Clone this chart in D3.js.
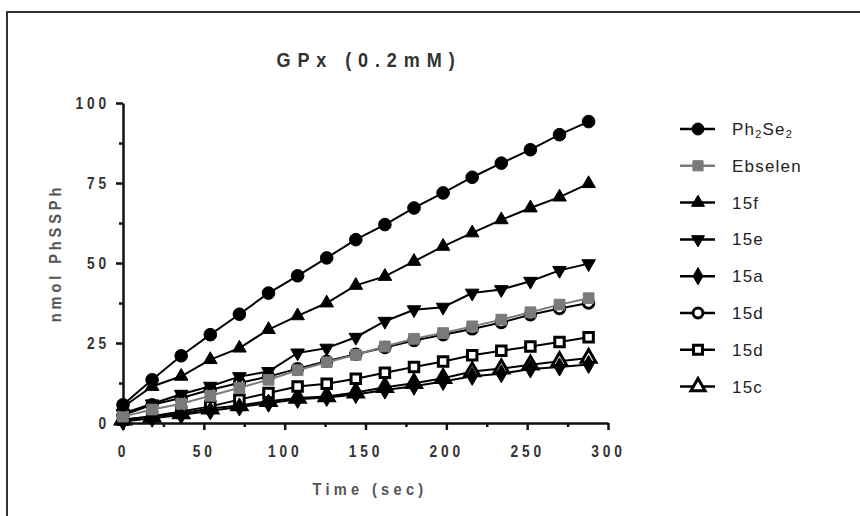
<!DOCTYPE html>
<html>
<head>
<meta charset="utf-8">
<script src="https://cdn.jsdelivr.net/npm/d3@7"></script>
<style>
  body { margin: 0; background: #fff; }
  text { font-family: "Liberation Sans", Arial, sans-serif; }
  .bold { font-weight: bold; }
</style>
</head>
<body>
<div id="chart"></div>
<script>
// time points (sec)
var times = [0, 18, 36, 54, 72, 90, 108, 126, 144, 162, 180, 198, 216, 234, 252, 270, 288];

// nmol PhSSPh for each compound
var ph2se2 = [5.7, 13.5, 21, 27.6, 34, 40.6, 46, 51.6, 57.3, 62, 67.2, 71.9, 76.8, 81.2, 85.4, 90.1, 94.2];
var ebselen = [2, 4.2, 6, 8.5, 11, 13.5, 16.5, 19, 21.3, 23.9, 26.3, 28.1, 30.2, 32.3, 34.6, 37, 39];
var c15f = [5, 11.4, 14.6, 19.8, 23.4, 29.2, 33.5, 37.5, 43, 45.8, 50.5, 55.2, 59.4, 63.5, 67.2, 70.6, 74.8];
var c15e = [3, 6, 9, 11.5, 14.5, 16.1, 21.9, 23.4, 26.8, 31.8, 35.4, 36.2, 40.6, 41.7, 44.3, 47.7, 49.8];
var c15a = [0.5, 1.5, 2.5, 3.8, 5, 6.2, 7.4, 8, 8.9, 10.3, 11.5, 13, 14.6, 15.4, 16.9, 17.5, 18.3];
var c15dCircle = [2.5, 5.7, 7.8, 10.4, 12.5, 14.5, 17, 19.3, 21.5, 23.6, 25.8, 27.6, 29.4, 31.4, 33.8, 35.8, 37.5];
var c15dSquare = [1, 2.1, 3.6, 5.2, 7.3, 9.4, 11.4, 12.3, 13.8, 15.7, 17.5, 19.2, 21.2, 22.6, 23.9, 25.3, 26.8];
var c15c = [1, 2, 3, 4.5, 5.5, 6.8, 7.8, 8.3, 9.5, 11.2, 12.4, 14, 16.1, 17, 18.2, 19.3, 20.3];

var seriesNames = ['Ph2Se2', 'Ebselen', '15f', '15e', '15a', '15d', '15d', '15c'];
var seriesValues = [ph2se2, ebselen, c15f, c15e, c15a, c15dCircle, c15dSquare, c15c];

var yTicks = [0, 25, 50, 75, 100];
var yMinor = [12.5, 37.5, 62.5, 87.5];
var xTicks = [0, 50, 100, 150, 200, 250, 300];
var xMinor = [25, 75, 125, 175, 225, 275];

// marker look per series
var markers = [
  {shape: d3.symbolCircle, size: 125, fill: '#000', stroke: '#000', line: '#000', rot: 0},
  {shape: d3.symbolSquare, size: 115, fill: '#7a7a7a', stroke: '#7a7a7a', line: '#7a7a7a', rot: 0},
  {shape: d3.symbolTriangle, size: 80, fill: '#000', stroke: '#000', line: '#000', rot: 0},
  {shape: d3.symbolTriangle, size: 80, fill: '#000', stroke: '#000', line: '#000', rot: 180},
  {shape: d3.symbolDiamond, size: 95, fill: '#000', stroke: '#000', line: '#000', rot: 0},
  {shape: d3.symbolCircle, size: 85, fill: '#fff', stroke: '#000', line: '#000', rot: 0, open: true},
  {shape: d3.symbolSquare, size: 90, fill: '#fff', stroke: '#000', line: '#000', rot: 0, open: true},
  {shape: d3.symbolTriangle, size: 95, fill: '#fff', stroke: '#000', line: '#000', rot: 0, open: true}
];

var W = 860, H = 516;
var squeeze = 0.86; // the original lettering is condensed

var svg = d3.select('#chart').append('svg')
  .attr('width', W)
  .attr('height', H);

// outer frame (runs off the right and bottom edges)
svg.append('rect')
  .attr('x', 7).attr('y', 12)
  .attr('width', 900).attr('height', 600)
  .attr('fill', 'none')
  .attr('stroke', '#333')
  .attr('stroke-width', 2);

var x = d3.scaleLinear().domain([0, 300]).range([123, 608]);
var y = d3.scaleLinear().domain([0, 100]).range([423, 103]);

// title
svg.append('text')
  .attr('class', 'bold')
  .attr('transform', 'translate(369,67) scale(' + squeeze + ',1)')
  .attr('text-anchor', 'middle')
  .style('font-size', '21px')
  .style('letter-spacing', '8px')
  .style('fill', '#333')
  .text('GPx (0.2mM)');

// y axis
var yAx = svg.append('g')
  .attr('transform', 'translate(' + x(0) + ',0)')
  .call(d3.axisLeft(y).tickValues(yTicks).tickSize(7).tickSizeOuter(0).tickPadding(6));
svg.append('g')
  .attr('transform', 'translate(' + x(0) + ',0)')
  .call(d3.axisLeft(y).tickValues(yMinor).tickSize(4).tickSizeOuter(0).tickFormat(''))
  .select('.domain').remove();

// x axis
var xAx = svg.append('g')
  .attr('transform', 'translate(0,' + y(0) + ')')
  .call(d3.axisBottom(x).tickValues(xTicks).tickSize(7).tickSizeOuter(0).tickPadding(16));
svg.append('g')
  .attr('transform', 'translate(0,' + y(0) + ')')
  .call(d3.axisBottom(x).tickValues(xMinor).tickSize(4).tickSizeOuter(0).tickFormat(''))
  .select('.domain').remove();

svg.selectAll('.domain, .tick line')
  .attr('stroke', '#111')
  .attr('stroke-width', 2.5);

svg.selectAll('.tick text')
  .attr('class', 'bold')
  .style('font-size', '16px')
  .style('letter-spacing', '4.5px')
  .style('fill', '#333')
  .attr('transform', 'scale(' + squeeze + ',1)');
yAx.selectAll('.tick text').attr('x', -13 / squeeze);

// axis labels
svg.append('text')
  .attr('class', 'bold')
  .attr('transform', 'translate(370,495) scale(' + squeeze + ',1)')
  .attr('text-anchor', 'middle')
  .style('font-size', '17px')
  .style('letter-spacing', '5px')
  .style('fill', '#555')
  .text('Time (sec)');

svg.append('text')
  .attr('class', 'bold')
  .attr('transform', 'translate(61,253) rotate(-90) scale(' + squeeze + ',1)')
  .attr('text-anchor', 'middle')
  .style('font-size', '17px')
  .style('letter-spacing', '4.5px')
  .style('fill', '#555')
  .text('nmol PhSSPh');

var line = d3.line()
  .x((d, i) => x(times[i]))
  .y(d => y(d));

// draw last series first, so Ph2Se2 ends on top
for (var s = seriesValues.length - 1; s >= 0; s--) {
  var m = markers[s];
  var g = svg.append('g');
  g.append('path')
    .datum(seriesValues[s])
    .attr('d', line)
    .attr('fill', 'none')
    .attr('stroke', m.line)
    .attr('stroke-width', 2);
  var sym = d3.symbol().type(m.shape).size(m.size);
  g.selectAll('path.pt')
    .data(seriesValues[s])
    .enter()
    .append('path')
    .attr('class', 'pt')
    .attr('d', sym)
    .attr('transform', (d, i) => 'translate(' + x(times[i]) + ',' + y(d) + ') rotate(' + m.rot + ')')
    .attr('fill', m.fill)
    .attr('stroke', m.stroke)
    .attr('stroke-width', m.open ? 3 : 1);
}

// legend
var legend = svg.append('g');
seriesNames.forEach(function(name, i) {
  var m = markers[i];
  var ly = 129 + i * 36.8;
  legend.append('line')
    .attr('x1', 680).attr('x2', 715)
    .attr('y1', ly).attr('y2', ly)
    .attr('stroke', m.line)
    .attr('stroke-width', 2.5);
  legend.append('path')
    .attr('d', d3.symbol().type(m.shape).size(m.size * 0.9)())
    .attr('transform', 'translate(698,' + ly + ') rotate(' + m.rot + ')')
    .attr('fill', m.fill)
    .attr('stroke', m.stroke)
    .attr('stroke-width', m.open ? 3 : 1);
  var t = legend.append('text')
    .attr('x', 732).attr('y', ly + 6)
    .style('font-size', '17px')
    .style('letter-spacing', '1.2px')
    .style('fill', '#222');
  if (name === 'Ph2Se2') {
    t.append('tspan').text('Ph');
    t.append('tspan').style('font-size', '11px').attr('dy', 3).text('2');
    t.append('tspan').attr('dy', -3).text('Se');
    t.append('tspan').style('font-size', '11px').attr('dy', 3).text('2');
  } else {
    t.text(name);
  }
});
</script>
</body>
</html>
